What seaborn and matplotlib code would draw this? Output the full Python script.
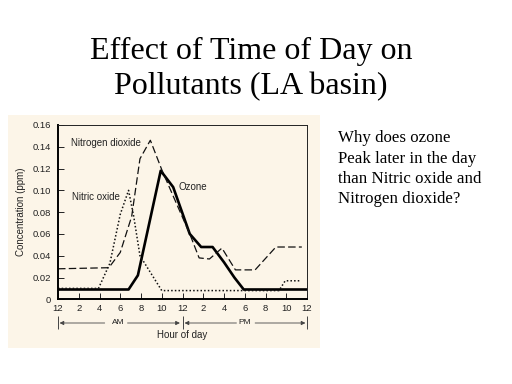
import matplotlib
matplotlib.use("Agg")
import matplotlib.pyplot as plt
import matplotlib.patches as mpatches
import seaborn as sns
import numpy as np

# ---------------- data ----------------
hours_ozone = [0, 6.8, 7.7, 9.9, 11.1, 12.7, 13.8, 14.9, 16.0, 17.0, 17.9, 24]
ozone = [0.009, 0.009, 0.022, 0.118, 0.103, 0.060, 0.048, 0.048, 0.034, 0.020, 0.009, 0.009]

hours_no2 = [0, 4.9, 6.0, 7.1, 7.9, 8.9, 10.0, 11.0, 12.7, 13.6, 14.6, 15.8, 17.1, 19.0, 21.0, 23.5]
no2 = [0.028, 0.029, 0.043, 0.076, 0.129, 0.146, 0.119, 0.097, 0.060, 0.038, 0.037, 0.047, 0.027, 0.027, 0.048, 0.048]

hours_no = [0, 3.9, 5.0, 6.0, 6.8, 7.3, 7.9, 10.0, 21.3, 21.9, 23.4]
nitric = [0.010, 0.010, 0.033, 0.078, 0.100, 0.076, 0.040, 0.008, 0.008, 0.017, 0.017]

x_ticks = list(range(0, 25, 2))
x_tick_labels = ["12", "2", "4", "6", "8", "10", "12", "2", "4", "6", "8", "10", "12"]
y_ticks = [0, 0.02, 0.04, 0.06, 0.08, 0.10, 0.12, 0.14, 0.16]
y_tick_labels = ["0", "0.02", "0.04", "0.06", "0.08", "0.10", "0.12", "0.14", "0.16"]

title_lines = ["Effect of Time of Day on", "Pollutants (LA basin)"]
question_lines = ["Why does ozone", "Peak later in the day",
                  "than Nitric oxide and", "Nitrogen dioxide?"]

# ---------------- style ----------------
sns.set_theme(style="ticks")
plt.rcParams["font.family"] = ["Liberation Sans", "DejaVu Sans"]

BEIGE = "#fcf5e8"
INK = "#222222"
W, H = 512, 384

fig = plt.figure(figsize=(5.12, 3.84), dpi=100, facecolor="white")

# beige card behind the chart
card = mpatches.Rectangle((8 / W, 1 - 348 / H), 312 / W, 233 / H,
                          transform=fig.transFigure, facecolor=BEIGE,
                          edgecolor="none", zorder=-5)
fig.patches.append(card)

ax = fig.add_axes([58 / W, 1 - 299.3 / H, (307 - 58) / W, (299.3 - 125) / H])
ax.set_zorder(1)
ax.set_facecolor(BEIGE)

sns.lineplot(x=hours_ozone, y=ozone, ax=ax, color="black", lw=1.9,
             estimator=None, sort=False)
sns.lineplot(x=hours_no2, y=no2, ax=ax, color="#111111", lw=0.9,
             estimator=None, sort=False)
ax.lines[-1].set_dashes((6, 2.6))
sns.lineplot(x=hours_no, y=nitric, ax=ax, color="#111111", lw=1.1,
             estimator=None, sort=False)
ax.lines[-1].set_dashes((1, 1.4))

ax.set_xlim(0, 24)
ax.set_ylim(0, 0.16)
ax.set_xticks(x_ticks)
ax.set_xticklabels(x_tick_labels)
ax.set_yticks(y_ticks)
ax.set_yticklabels(y_tick_labels)
ax.tick_params(direction="in", length=4, width=0.7, colors=INK,
               labelsize=6.8)
ax.tick_params(axis="y", pad=5)
ax.tick_params(axis="x", pad=3.5)
ax.set_xlabel("")
ax.set_ylabel("Concentration (ppm)", fontsize=7, color=INK, labelpad=5)

for side in ["left", "bottom"]:
    ax.spines[side].set_linewidth(1.4)
    ax.spines[side].set_color("black")
for side in ["top", "right"]:
    ax.spines[side].set_visible(True)
    ax.spines[side].set_linewidth(0.7)
    ax.spines[side].set_color("#222222")

# series labels
ax.text(8.0, 0.1437, "Nitrogen dioxide", ha="right", va="center",
        fontsize=7, color=INK)
ax.text(6.0, 0.094, "Nitric oxide", ha="right", va="center",
        fontsize=7, color=INK)
ax.text(11.6, 0.1034, "Ozone", ha="left", va="center",
        fontsize=7, color=INK)

# AM / PM arrows below the axis
trans = ax.get_xaxis_transform()
ya = (299.3 - 323) / 174.3
arrow_kw = dict(arrowstyle="-|>", lw=0.6, color="#444444",
                mutation_scale=6, shrinkA=0, shrinkB=0)
for start, end in [(4.5, 0.15), (6.7, 11.75), (17.2, 12.2), (19.0, 23.85)]:
    ax.annotate("", xy=(end, ya), xytext=(start, ya), xycoords=trans,
                textcoords=trans, arrowprops=arrow_kw, annotation_clip=False)
ax.text(5.8, ya, "AM", transform=trans, ha="center", va="center",
        fontsize=6, color=INK)
ax.text(18.0, ya, "PM", transform=trans, ha="center", va="center",
        fontsize=6, color=INK)
ax.vlines([0, 12, 24], (299.3 - 316) / 174.3, (299.3 - 329) / 174.3,
          transform=trans, colors="#444444", lw=0.7, clip_on=False)
ax.text(12, (299.3 - 335) / 174.3, "Hour of day", transform=trans,
        ha="center", va="center", fontsize=7, color=INK)

# title
serif = ["Liberation Serif", "DejaVu Serif"]
for i, line in enumerate(title_lines):
    fig.text(251 / W, 1 - (59 + 35 * i) / H, line, ha="center",
             va="baseline", fontsize=23, family=serif, color="black")

# question text
for i, line in enumerate(question_lines):
    fig.text(338 / W, 1 - (142.5 + 20.2 * i) / H, line, ha="left",
             va="baseline", fontsize=12.2, family=serif, color="black")

fig.savefig("out.png", dpi=100, facecolor="white")
